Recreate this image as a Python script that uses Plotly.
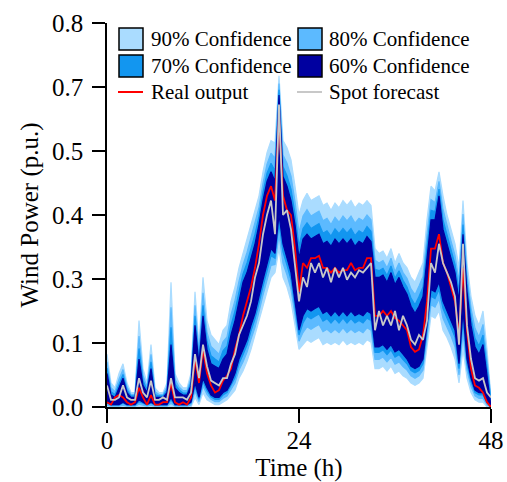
import numpy as np
import plotly.graph_objects as go

# time axis, half-hour steps over two days
hours = np.arange(0, 48.5, 0.5)

real_output = [
    0.01, 0.005, 0.02, 0.025, 0.02, 0.01, 0.005, 0.01, 0.04, 0.02,
    0.005, 0.025, 0.005, 0.005, 0.01, 0.01, 0.05, 0.01, 0.005, 0.01,
    0.005, 0.02, 0.10, 0.05, 0.12, 0.07, 0.045, 0.03, 0.035, 0.055,
    0.065, 0.08, 0.12, 0.15, 0.19, 0.22, 0.25, 0.29, 0.34, 0.40,
    0.44, 0.46, 0.43, 0.60, 0.44, 0.41, 0.40, 0.33, 0.24, 0.30,
    0.29, 0.31, 0.31, 0.315, 0.29, 0.29, 0.28, 0.29, 0.28, 0.285,
    0.285, 0.30, 0.285, 0.29, 0.29, 0.31, 0.31, 0.19, 0.19, 0.20,
    0.19, 0.20, 0.185, 0.18, 0.17, 0.16, 0.125, 0.115, 0.12, 0.15,
    0.22, 0.33, 0.33, 0.36, 0.30, 0.28, 0.25, 0.22, 0.15, 0.29,
    0.16, 0.08, 0.045, 0.04, 0.03, 0.01, 0.0,
]

spot_forecast = [
    0.045, 0.015, 0.015, 0.02, 0.045, 0.02, 0.015, 0.015, 0.06, 0.03,
    0.02, 0.055, 0.015, 0.015, 0.02, 0.015, 0.06, 0.02, 0.02, 0.02,
    0.015, 0.03, 0.11, 0.06, 0.13, 0.085, 0.055, 0.05, 0.045, 0.06,
    0.06, 0.09, 0.11, 0.15, 0.17, 0.19, 0.22, 0.27, 0.30, 0.36,
    0.40, 0.43, 0.36, 0.63, 0.40, 0.41, 0.37, 0.30, 0.22, 0.27,
    0.25, 0.30, 0.28, 0.30, 0.27, 0.29, 0.26, 0.29, 0.27, 0.29,
    0.265, 0.28, 0.27, 0.285, 0.28, 0.29, 0.30, 0.16, 0.20, 0.17,
    0.19, 0.17, 0.20, 0.16, 0.19, 0.17, 0.14, 0.13, 0.15, 0.14,
    0.18, 0.30, 0.28, 0.34, 0.30, 0.28, 0.26, 0.23, 0.13, 0.34,
    0.17, 0.10, 0.06, 0.055, 0.06, 0.03, 0.02,
]

upper_90 = [
    0.11, 0.05, 0.04, 0.07, 0.09, 0.05, 0.03, 0.03, 0.18, 0.08,
    0.05, 0.13, 0.04, 0.03, 0.03, 0.05, 0.26, 0.07, 0.05, 0.04,
    0.04, 0.07, 0.24, 0.13, 0.27, 0.18, 0.15, 0.14, 0.13, 0.16,
    0.17, 0.22, 0.25, 0.29, 0.32, 0.35, 0.38, 0.41, 0.44, 0.49,
    0.53, 0.555, 0.55, 0.69, 0.555, 0.54, 0.515, 0.46, 0.40, 0.43,
    0.445, 0.43, 0.435, 0.44, 0.42, 0.425, 0.41, 0.425, 0.415, 0.43,
    0.42, 0.43, 0.415, 0.425, 0.42, 0.43, 0.42, 0.33, 0.32, 0.325,
    0.31, 0.33, 0.30, 0.32, 0.30, 0.29, 0.27, 0.26, 0.28, 0.30,
    0.39, 0.46, 0.45, 0.49, 0.44, 0.40, 0.37, 0.34, 0.29, 0.43,
    0.30, 0.23, 0.19, 0.17, 0.20, 0.12, 0.02,
]

upper_80 = [
    0.094, 0.04, 0.032, 0.058, 0.078, 0.042, 0.026, 0.026, 0.148, 0.066,
    0.042, 0.11, 0.032, 0.026, 0.026, 0.042, 0.208, 0.058, 0.042, 0.034,
    0.034, 0.06, 0.212, 0.114, 0.238, 0.156, 0.126, 0.118, 0.11, 0.136,
    0.146, 0.192, 0.222, 0.262, 0.296, 0.322, 0.352, 0.382, 0.416, 0.466,
    0.506, 0.529, 0.518, 0.674, 0.525, 0.508, 0.481, 0.428, 0.364, 0.398,
    0.411, 0.398, 0.403, 0.408, 0.388, 0.393, 0.38, 0.395, 0.385, 0.398,
    0.388, 0.398, 0.383, 0.393, 0.388, 0.40, 0.39, 0.306, 0.30, 0.305,
    0.29, 0.31, 0.282, 0.30, 0.28, 0.268, 0.246, 0.234, 0.252, 0.272,
    0.358, 0.432, 0.426, 0.47, 0.412, 0.376, 0.346, 0.316, 0.262, 0.402,
    0.276, 0.206, 0.164, 0.146, 0.172, 0.10, 0.016,
]

upper_70 = [
    0.081, 0.032, 0.026, 0.048, 0.068, 0.036, 0.023, 0.023, 0.122, 0.055,
    0.036, 0.094, 0.026, 0.023, 0.023, 0.036, 0.166, 0.048, 0.036, 0.029,
    0.029, 0.052, 0.19, 0.101, 0.212, 0.137, 0.107, 0.10, 0.094, 0.117,
    0.127, 0.17, 0.20, 0.24, 0.277, 0.30, 0.33, 0.36, 0.397, 0.447,
    0.487, 0.508, 0.492, 0.661, 0.501, 0.482, 0.454, 0.402, 0.335, 0.372,
    0.384, 0.372, 0.377, 0.382, 0.362, 0.367, 0.356, 0.371, 0.361, 0.372,
    0.362, 0.372, 0.357, 0.367, 0.362, 0.376, 0.366, 0.287, 0.284, 0.289,
    0.274, 0.294, 0.268, 0.284, 0.264, 0.25, 0.227, 0.213, 0.23, 0.25,
    0.332, 0.41, 0.407, 0.454, 0.39, 0.357, 0.327, 0.297, 0.24, 0.38,
    0.257, 0.187, 0.143, 0.127, 0.15, 0.084, 0.013,
]

upper_60 = [
    0.07, 0.025, 0.02, 0.04, 0.06, 0.03, 0.02, 0.02, 0.10, 0.045,
    0.03, 0.08, 0.02, 0.02, 0.02, 0.03, 0.13, 0.04, 0.03, 0.025,
    0.025, 0.045, 0.17, 0.09, 0.19, 0.12, 0.09, 0.085, 0.08, 0.10,
    0.11, 0.15, 0.18, 0.22, 0.26, 0.28, 0.31, 0.34, 0.38, 0.43,
    0.47, 0.49, 0.47, 0.65, 0.48, 0.46, 0.43, 0.38, 0.31, 0.35,
    0.36, 0.35, 0.355, 0.36, 0.34, 0.345, 0.335, 0.35, 0.34, 0.35,
    0.34, 0.35, 0.335, 0.345, 0.34, 0.355, 0.345, 0.27, 0.27, 0.275,
    0.26, 0.28, 0.255, 0.27, 0.25, 0.235, 0.21, 0.195, 0.21, 0.23,
    0.31, 0.39, 0.39, 0.44, 0.37, 0.34, 0.31, 0.28, 0.22, 0.36,
    0.24, 0.17, 0.125, 0.11, 0.13, 0.07, 0.01,
]

lower_60 = [
    0.01, 0.005, 0.005, 0.005, 0.01, 0.005, 0.005, 0.005, 0.015, 0.01,
    0.005, 0.01, 0.005, 0.005, 0.005, 0.005, 0.02, 0.005, 0.005, 0.005,
    0.005, 0.01, 0.05, 0.02, 0.06, 0.04, 0.025, 0.02, 0.02, 0.03,
    0.035, 0.05, 0.07, 0.10, 0.12, 0.14, 0.17, 0.195, 0.23, 0.265,
    0.30, 0.33, 0.32, 0.40, 0.34, 0.31, 0.28, 0.22, 0.16, 0.19,
    0.205, 0.20, 0.205, 0.21, 0.195, 0.20, 0.19, 0.20, 0.19, 0.20,
    0.19, 0.20, 0.19, 0.195, 0.19, 0.20, 0.195, 0.125, 0.125, 0.13,
    0.12, 0.13, 0.115, 0.12, 0.11, 0.10, 0.085, 0.08, 0.085, 0.10,
    0.17, 0.245, 0.24, 0.26, 0.22, 0.20, 0.18, 0.16, 0.09, 0.20,
    0.10, 0.06, 0.035, 0.03, 0.03, 0.01, 0.0,
]

lower_70 = [
    0.008, 0.004, 0.004, 0.004, 0.008, 0.004, 0.004, 0.004, 0.011, 0.008,
    0.004, 0.008, 0.004, 0.004, 0.004, 0.004, 0.015, 0.004, 0.004, 0.004,
    0.004, 0.008, 0.043, 0.016, 0.053, 0.034, 0.021, 0.016, 0.016, 0.025,
    0.03, 0.044, 0.061, 0.09, 0.109, 0.129, 0.158, 0.183, 0.216, 0.251,
    0.285, 0.315, 0.31, 0.383, 0.323, 0.295, 0.265, 0.208, 0.15, 0.175,
    0.189, 0.184, 0.189, 0.194, 0.179, 0.184, 0.175, 0.184, 0.175, 0.185,
    0.175, 0.184, 0.175, 0.18, 0.175, 0.185, 0.18, 0.114, 0.114, 0.119,
    0.109, 0.119, 0.104, 0.109, 0.099, 0.09, 0.076, 0.071, 0.076, 0.09,
    0.158, 0.231, 0.226, 0.245, 0.205, 0.186, 0.166, 0.145, 0.08, 0.18,
    0.09, 0.053, 0.03, 0.025, 0.025, 0.008, 0.0,
]

lower_80 = [
    0.004, 0.002, 0.002, 0.002, 0.004, 0.002, 0.002, 0.002, 0.006, 0.004,
    0.002, 0.004, 0.002, 0.002, 0.002, 0.002, 0.008, 0.002, 0.002, 0.002,
    0.002, 0.004, 0.033, 0.011, 0.043, 0.026, 0.016, 0.011, 0.011, 0.018,
    0.023, 0.036, 0.05, 0.077, 0.094, 0.114, 0.141, 0.166, 0.198, 0.233,
    0.265, 0.295, 0.297, 0.359, 0.299, 0.275, 0.245, 0.191, 0.137, 0.155,
    0.167, 0.162, 0.167, 0.172, 0.157, 0.162, 0.155, 0.162, 0.155, 0.165,
    0.155, 0.162, 0.155, 0.16, 0.155, 0.165, 0.16, 0.099, 0.099, 0.104,
    0.094, 0.104, 0.089, 0.094, 0.084, 0.077, 0.065, 0.06, 0.065, 0.077,
    0.141, 0.213, 0.208, 0.225, 0.185, 0.168, 0.148, 0.125, 0.067, 0.154,
    0.077, 0.043, 0.023, 0.018, 0.018, 0.004, 0.0,
]

lower_90 = [
    0, 0, 0, 0, 0, 0, 0, 0, 0, 0,
    0, 0, 0, 0, 0, 0, 0, 0, 0, 0,
    0, 0, 0.02, 0.005, 0.03, 0.015, 0.01, 0.005, 0.005, 0.01,
    0.015, 0.025, 0.035, 0.06, 0.075, 0.095, 0.12, 0.145, 0.175, 0.21,
    0.24, 0.27, 0.28, 0.33, 0.27, 0.25, 0.22, 0.17, 0.12, 0.13,
    0.14, 0.135, 0.14, 0.145, 0.13, 0.135, 0.13, 0.135, 0.13, 0.14,
    0.13, 0.135, 0.13, 0.135, 0.13, 0.14, 0.135, 0.08, 0.08, 0.085,
    0.075, 0.085, 0.07, 0.075, 0.065, 0.06, 0.05, 0.045, 0.05, 0.06,
    0.12, 0.19, 0.185, 0.20, 0.16, 0.145, 0.125, 0.10, 0.05, 0.12,
    0.06, 0.03, 0.015, 0.01, 0.01, 0, 0,
]

band_labels = ['90% Confidence', '80% Confidence', '70% Confidence', '60% Confidence']
band_colors = ['#aadcff', '#5cbaff', '#1296f0', '#0000a0']
band_upper = [upper_90, upper_80, upper_70, upper_60]
band_lower = [lower_90, lower_80, lower_70, lower_60]

x_tick_vals = [0, 24, 48]
y_tick_vals = [0, 0.1333, 0.2667, 0.4, 0.5333, 0.6667, 0.8]
y_tick_text = ['0.0', '0.1', '0.3', '0.4', '0.5', '0.7', '0.8']

FONT = 'Liberation Serif'

fig = go.Figure()

xs = list(hours)
for name, color, up, lo in zip(band_labels, band_colors, band_upper, band_lower):
    # thin outline in the fill colour keeps the narrow spikes visible
    fig.add_trace(go.Scatter(
        x=xs + xs[::-1], y=list(up) + list(lo)[::-1],
        fill='toself', fillcolor=color, mode='lines',
        line=dict(width=1.2, color=color), name=name, hoverinfo='skip'))

fig.add_trace(go.Scatter(x=hours, y=real_output, mode='lines', name='Real output',
                         line=dict(color='#ff0000', width=1.8)))
fig.add_trace(go.Scatter(x=hours, y=spot_forecast, mode='lines', name='Spot forecast',
                         line=dict(color='#c8c8c8', width=1.8)))

# hand-drawn legend, in pixel positions of the 507x482 page
L, T, W, H = 107, 23, 384, 384


def px_x(p):
    return (p - L) / W


def px_y(p):
    return (T + H - p) / H


shapes = []
annotations = []
box_cols = [119, 298]
text_cols = [149, 327]
box_rows = [(28, 50), (55, 77)]
for k, (name, color) in enumerate(zip(band_labels, band_colors)):
    r, c = divmod(k, 2)
    y0, y1 = box_rows[r]
    shapes.append(dict(type='rect', xref='paper', yref='paper',
                       x0=px_x(box_cols[c]), x1=px_x(box_cols[c] + 24),
                       y0=px_y(y1), y1=px_y(y0),
                       fillcolor=color, line=dict(color='black', width=1.5)))
    annotations.append(dict(text=name, xref='paper', yref='paper',
                            x=px_x(text_cols[c]), y=px_y((y0 + y1) / 2),
                            xanchor='left', yanchor='middle', showarrow=False,
                            font=dict(family=FONT, size=21, color='black')))

line_items = [('Real output', '#ff0000'), ('Spot forecast', '#c8c8c8')]
for c, (name, color) in enumerate(line_items):
    shapes.append(dict(type='line', xref='paper', yref='paper',
                       x0=px_x(box_cols[c] - 1), x1=px_x(box_cols[c] + 24),
                       y0=px_y(92), y1=px_y(92),
                       line=dict(color=color, width=2)))
    annotations.append(dict(text=name, xref='paper', yref='paper',
                            x=px_x(text_cols[c]), y=px_y(92),
                            xanchor='left', yanchor='middle', showarrow=False,
                            font=dict(family=FONT, size=21, color='black')))

fig.update_layout(
    width=507, height=482,
    margin=dict(l=L, r=507 - L - W, t=T, b=482 - T - H),
    plot_bgcolor='white', paper_bgcolor='white',
    showlegend=False,
    font=dict(family=FONT, size=25, color='black'),
    shapes=shapes, annotations=annotations,
)
fig.update_xaxes(range=[0, 48], tickvals=x_tick_vals, ticks='outside', ticklen=14,
                 tickwidth=1.5, tickcolor='black', showline=True, linecolor='black',
                 linewidth=1.5, showgrid=False, zeroline=False, ticklabelstandoff=-4,
                 automargin=False,
                 title=dict(text='Time (h)', standoff=14, font=dict(size=25)))
fig.update_yaxes(range=[0, 0.8], tickvals=y_tick_vals, ticktext=y_tick_text,
                 ticks='outside', ticklen=13, tickwidth=1.5, tickcolor='black',
                 showline=True, linecolor='black', linewidth=1.5, showgrid=False,
                 zeroline=False, ticklabelstandoff=4, automargin=False,
                 title=dict(text='Wind Power (p.u.)', standoff=6, font=dict(size=25)))

fig.write_html("out.html", config={'displayModeBar': False},
               post_script="document.body.style.margin='0';")
